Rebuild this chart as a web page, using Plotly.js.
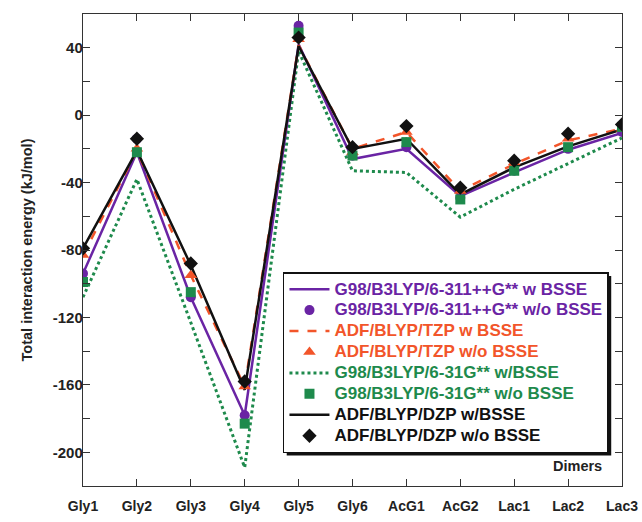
<!DOCTYPE html>
<html><head><meta charset="utf-8">
<script src="https://cdn.plot.ly/plotly-3.0.1.min.js"></script>
<style>html,body{margin:0;padding:0;background:#fff}#chart{width:642px;height:522px}</style>
</head><body><div id="chart"></div>
<script>
const dimers = ['Gly1','Gly2','Gly3','Gly4','Gly5','Gly6','AcG1','AcG2','Lac1','Lac2','Lac3'];

// with BSSE (lines)
const g311_wBSSE  = [-94, -22, -108, -178, 42, -26, -20, -48, -34, -20.5, -10.5];
const tzp_wBSSE   = [-83, -21, -95, -161, 41.5, -20, -10, -45, -29, -15, -8];
const g31_wBSSE   = [-108, -38, -123, -209, 38, -33, -34, -60.5, -44, -28.5, -13.5];
const dzp_wBSSE   = [-79, -21, -89, -163, 41, -20, -14, -47, -31, -18.5, -8.5];

// without BSSE (markers)
const g311_woBSSE = [-94, -14, -108, -178, 53, -24, -19, -49, -33, -20, -10];
const tzp_woBSSE  = [-83, -20, -95, -161, 45, -22, -10, -45, -28, -14, -8];
const g31_woBSSE  = [-99, -22, -105, -183, 49, -24, -16, -50, -33, -19, -7];
const dzp_woBSSE  = [-79, -14, -88, -158, 46, -19, -6.5, -43, -27, -11, -5.5];

const yTickVals = [-200,-180,-160,-140,-120,-100,-80,-60,-40,-20,0,20,40];
const yTickText = ['-200','','-160','','-120','','-80','','-40','','0','','40'];

const PURPLE = '#6a24a4', ORANGE = '#f2552a', GREEN = '#1e8a4c', BLACK = '#111111';
const lbl = (t, c) => '<span style="color:' + c + ';font-size:17px">' + t + '</span>';

const traces = [
  {x: dimers, y: g31_wBSSE, mode: 'lines', line: {color: GREEN, width: 3, dash: 'dot'},
   name: lbl('G98/B3LYP/6-31G** w/BSSE', GREEN), legendrank: 5},
  {x: dimers, y: g311_wBSSE, mode: 'lines', line: {color: PURPLE, width: 2.5},
   name: lbl('G98/B3LYP/6-311++G** w BSSE', PURPLE), legendrank: 1},
  {x: dimers, y: tzp_wBSSE, mode: 'lines', line: {color: ORANGE, width: 2.5, dash: 'dash'},
   name: lbl('ADF/BLYP/TZP w BSSE', ORANGE), legendrank: 3},
  {x: dimers, y: dzp_wBSSE, mode: 'lines', line: {color: BLACK, width: 2.5},
   name: lbl('ADF/BLYP/DZP w/BSSE', BLACK), legendrank: 7},
  {x: dimers, y: g311_woBSSE, mode: 'markers', marker: {color: PURPLE, size: 10, symbol: 'circle'},
   name: lbl('G98/B3LYP/6-311++G** w/o BSSE', PURPLE), legendrank: 2},
  {x: dimers, y: tzp_woBSSE, mode: 'markers', marker: {color: ORANGE, size: 11, symbol: 'triangle-up'},
   name: lbl('ADF/BLYP/TZP w/o BSSE', ORANGE), legendrank: 4},
  {x: dimers, y: g31_woBSSE, mode: 'markers', marker: {color: GREEN, size: 10, symbol: 'square'},
   name: lbl('G98/B3LYP/6-31G** w/o BSSE', GREEN), legendrank: 6},
  {x: dimers, y: dzp_woBSSE, mode: 'markers', marker: {color: BLACK, size: 11, symbol: 'diamond'},
   name: lbl('ADF/BLYP/DZP w/o BSSE', BLACK), legendrank: 8}
];

const FONT = 'Liberation Sans, Arial, Helvetica, sans-serif';
const layout = {
  width: 642, height: 522,
  margin: {l: 83, r: 20, t: 14, b: 36},
  paper_bgcolor: '#ffffff', plot_bgcolor: '#ffffff',
  font: {family: FONT, size: 13, color: '#222', weight: 'bold'},
  showlegend: true,
  legend: {
    x: 0.371, y: 0.453, xanchor: 'left', yanchor: 'top',
    bgcolor: '#ffffff', bordercolor: '#111', borderwidth: 1.5,
    font: {family: FONT, size: 13.8, weight: 'bold'},
    itemwidth: 40, tracegroupgap: 0
  },
  xaxis: {
    type: 'category', range: [0, 10], showgrid: false, zeroline: false,
    showline: true, linecolor: '#333', linewidth: 1.2, mirror: 'ticks',
    ticks: 'inside', ticklen: 7, tickcolor: '#333', tickwidth: 1,
    ticklabelstandoff: 7,
    tickfont: {family: FONT, size: 14, weight: 'bold', color: '#222'}
  },
  yaxis: {
    range: [-220, 60], showgrid: false, zeroline: false,
    showline: true, linecolor: '#333', linewidth: 1.2, mirror: 'ticks',
    ticks: 'inside', ticklen: 7, tickcolor: '#333', tickwidth: 1,
    tickvals: yTickVals, ticktext: yTickText,
    ticklabelstandoff: -4,
    tickfont: {family: FONT, size: 15, weight: 'bold', color: '#222'},
    title: {text: 'Total interaction energy (kJ/mol)', standoff: 16,
            font: {family: FONT, size: 14.5, weight: 'bold', color: '#222'}}
  },
  annotations: [{
    text: 'Dimers', xref: 'paper', yref: 'paper', x: 0.918, y: 0.043,
    xanchor: 'center', yanchor: 'middle', showarrow: false,
    font: {family: FONT, size: 14.5, weight: 'bold', color: '#222'}
  }]
};

Plotly.newPlot('chart', traces, layout, {displayModeBar: false, staticPlot: true}).then(gd => {
  const bg = gd.querySelector('.legend .bg');
  if (!bg) return;
  const lb = bg.getBoundingClientRect();
  const fs = gd._fullLayout._size;
  const toX = px => (px - fs.l) / fs.w;
  const toY = py => 1 - (py - fs.t) / fs.h;
  const off = 3;
  Plotly.relayout(gd, {shapes: [{
    type: 'rect', xref: 'paper', yref: 'paper', layer: 'above',
    x0: toX(lb.left + off), x1: toX(lb.right + off),
    y0: toY(lb.bottom + off), y1: toY(lb.top + off),
    fillcolor: '#111', line: {width: 0}
  }]});
});
</script></body></html>
